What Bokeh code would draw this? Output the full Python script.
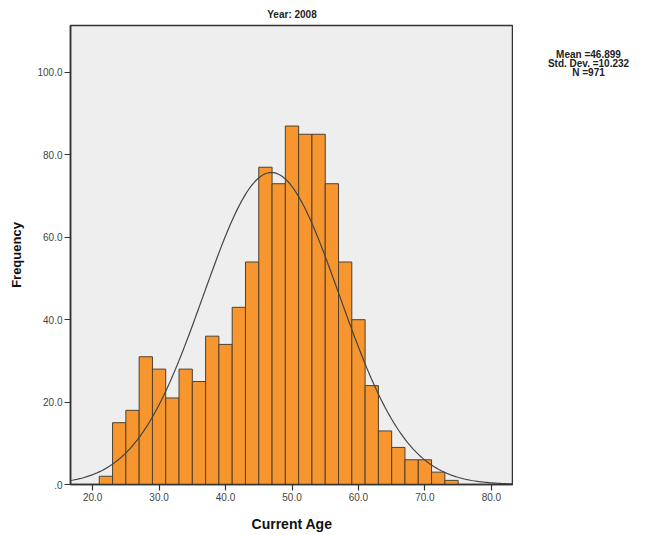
import numpy as np
from bokeh.plotting import figure
from bokeh.layouts import row
from bokeh.models import Range1d, FixedTicker, CustomJSTickFormatter, ColumnDataSource
from bokeh.core.properties import value
from bokeh.embed import file_html
from bokeh.resources import INLINE

# ---- data ----
TITLE = "Year: 2008"
X_LABEL = "Current Age"
Y_LABEL = "Frequency"
BIN_START = 21
BIN_WIDTH = 2
COUNTS = [2, 15, 18, 31, 28, 21, 28, 25, 36, 34, 43, 54, 77, 73,
          87, 85, 85, 73, 54, 40, 24, 13, 9, 6, 6, 3, 1]
MEAN = 46.899
STD = 10.232
N = 971
X_TICKS = [20, 30, 40, 50, 60, 70, 80]
Y_TICKS = [0, 20, 40, 60, 80, 100]
STATS_LINES = ["Mean =46.899", "Std. Dev. =10.232", "N =971"]

FONT = "Liberation Sans"

lefts = [BIN_START + i * BIN_WIDTH for i in range(len(COUNTS))]
rights = [l + BIN_WIDTH for l in lefts]
src = ColumnDataSource(dict(left=lefts, right=rights, top=COUNTS, bottom=[0] * len(COUNTS)))

p = figure(width=513, height=535, output_backend="svg", toolbar_location=None,
           x_range=Range1d(16.67, 83.33), y_range=Range1d(0, 111.4),
           min_border_left=70, min_border_right=0, min_border_top=25, min_border_bottom=51)

p.title.text = TITLE
p.title.align = "center"
p.title.text_font = FONT
p.title.text_font_size = "10px"
p.title.text_font_style = "bold"
p.title.text_color = "#222222"
p.title.standoff = 11

p.background_fill_color = "#EEEEEE"
p.border_fill_color = "white"
p.outline_line_color = "#333333"
p.outline_line_width = 1.5
p.xgrid.visible = False
p.ygrid.visible = False

p.quad(left="left", right="right", top="top", bottom="bottom", source=src,
       fill_color="#F7962F", line_color="#4d4030", line_width=1)

xs = np.linspace(16.67, 83.33, 300)
ys = N * BIN_WIDTH * np.exp(-0.5 * ((xs - MEAN) / STD) ** 2) / (STD * np.sqrt(2 * np.pi))
p.line(xs, ys, line_color="#444444", line_width=1.2)

fmt = CustomJSTickFormatter(code="return tick == 0 ? '.0' : tick.toFixed(1);")

for ax, ticks in ((p.xaxis[0], X_TICKS), (p.yaxis[0], Y_TICKS)):
    ax.ticker = FixedTicker(ticks=ticks)
    ax.formatter = fmt
    ax.minor_tick_line_color = None
    ax.major_tick_out = 6
    ax.major_tick_in = 0
    ax.major_tick_line_color = "#333333"
    ax.major_tick_line_width = 1.2
    ax.axis_line_color = "#333333"
    ax.axis_line_width = 1.5
    ax.major_label_text_font = FONT
    ax.major_label_text_font_size = "10px"
    ax.major_label_text_color = "#444444"
    ax.major_label_standoff = 2
    ax.axis_label_text_font = FONT
    ax.axis_label_text_font_style = "bold"
    ax.axis_label_text_color = "#111111"

p.xaxis[0].axis_label = X_LABEL
p.xaxis[0].axis_label_text_font_size = "14px"
p.xaxis[0].axis_label_standoff = 12
p.yaxis[0].axis_label = Y_LABEL
p.yaxis[0].axis_label_text_font_size = "13px"
p.yaxis[0].axis_label_standoff = 10

# stats panel to the right of the chart; its frame is aligned with the
# main frame (rows 25..484), so the y range maps straight onto page pixels
s = figure(width=132, height=535, output_backend="svg", toolbar_location=None,
           title_location=None,
           x_range=Range1d(0, 132), y_range=Range1d(484, 25),
           min_border=0, x_axis_type=None, y_axis_type=None)
s.outline_line_color = None
s.background_fill_color = "white"
s.border_fill_color = "white"
s.xgrid.visible = False
s.ygrid.visible = False
stat_src = ColumnDataSource(dict(x=[75, 75, 75], y=[53.5, 62.8, 72.0], text=STATS_LINES))
s.text(x="x", y="y", text="text", source=stat_src, text_align="center",
       text_baseline="middle", text_font=value(FONT), text_font_size="10px",
       text_font_style="bold", text_color="#222222")

layout = row(p, s, spacing=0)
open("out.html", "w").write(file_html(layout, INLINE))
